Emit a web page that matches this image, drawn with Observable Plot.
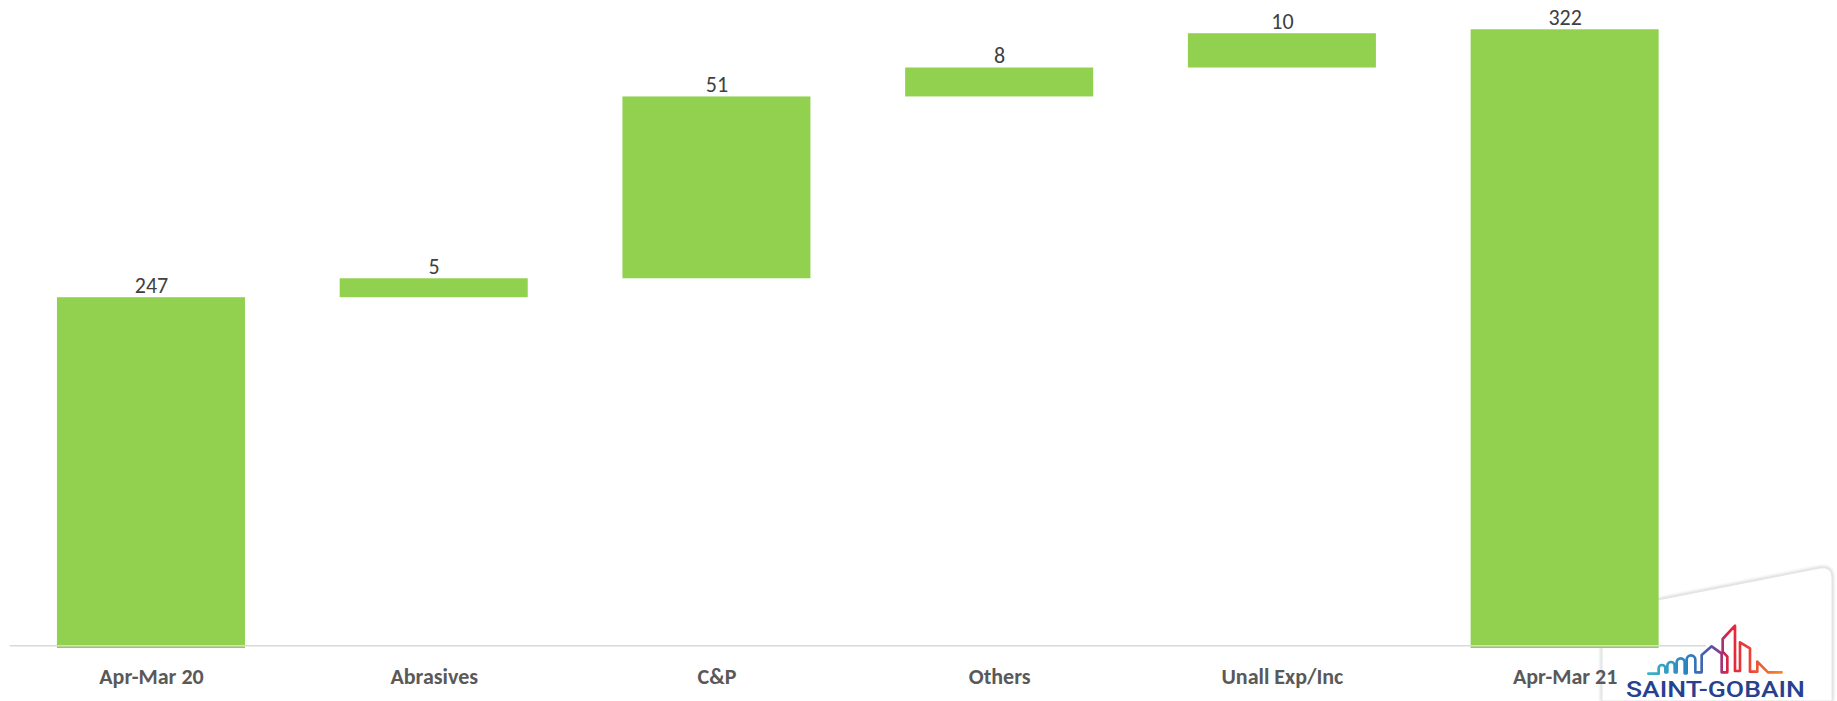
<!DOCTYPE html>
<html>
<head>
<meta charset="utf-8">
<script src="https://cdn.jsdelivr.net/npm/d3@7"></script>
<script src="https://cdn.jsdelivr.net/npm/@observablehq/plot@0.6"></script>
<style>
  html, body { margin: 0; padding: 0; background: #ffffff; }
  #wrap { position: relative; width: 1837px; height: 701px; overflow: hidden; }
  #panel, #logo { position: absolute; left: 0; top: 0; }
  #chart { position: absolute; left: 0; top: 0; }
  #panel { z-index: 0; }
  #chart { z-index: 1; }
  #logo { z-index: 2; pointer-events: none; }
</style>
</head>
<body>
<div id="wrap">
  <svg id="panel" width="1837" height="701">
    <defs>
      <filter id="sh" x="-10%" y="-10%" width="120%" height="120%">
        <feGaussianBlur stdDeviation="1.5"/>
      </filter>
    </defs>
    <path d="M1602,701 V611 L1820,568 Q1832,566 1832,578 V701" fill="none" stroke="#d6d6d6" stroke-width="3" filter="url(#sh)"/>
    <path d="M1602,701 V611 L1820,568 Q1832,566 1832,578 V701 Z" fill="#ffffff" stroke="#e4e4e4" stroke-width="1"/>
  </svg>
  <div id="chart"></div>
  <svg id="logo" width="1837" height="701">
    <defs>
      <linearGradient id="sky" gradientUnits="userSpaceOnUse" x1="25" y1="0" x2="425" y2="0">
        <stop offset="0" stop-color="#3cb6c6"/>
        <stop offset="0.3" stop-color="#2a80c0"/>
        <stop offset="0.45" stop-color="#4a5aa8"/>
        <stop offset="0.53" stop-color="#8b3a8c"/>
        <stop offset="0.6" stop-color="#e2203c"/>
        <stop offset="0.75" stop-color="#ec3f38"/>
        <stop offset="1" stop-color="#f2892c"/>
      </linearGradient>
    </defs>
    <g transform="translate(1640,615) scale(0.3333)">
      <path d="M25,176 H56 V160 A10,10 0 0 1 76,160 V172 H82 V152 A11,11 0 0 1 104,152 V172 H110 V142 A12,12 0 0 1 134,142 V175 H140 V134 A13,13 0 0 1 166,134 V172 H185 V120 L215,94 L245,116 V172 H262 V125 L248,110 V72 L285,32 V168 H300 V82 L330,100 V170 H352 V140 L372,160 L384,172 H425"
        fill="none" stroke="url(#sky)" stroke-width="8" stroke-linejoin="round" stroke-linecap="round"/>
    </g>
    <text x="1626" y="697" font-family="Roboto, 'Noto Sans', sans-serif" font-weight="500" font-size="22" fill="#27418f" textLength="179" lengthAdjust="spacingAndGlyphs">SAINT-GOBAIN</text>
  </svg>
</div>
<script>
// ---- data ----
const categories = ["Apr-Mar 20", "Abrasives", "C&P", "Others", "Unall Exp/Inc", "Apr-Mar 21"];
const values = [247.4, 5.3, 50.9, 8.1, 9.6, 322.4];
const kinds = ["total", "delta", "delta", "delta", "delta", "total"];
const axisMin = 149.2;   // y-axis does not start at zero
const axisLineAt = 150;

// build waterfall rows
let running = 0;
const rows = categories.map((cat, i) => {
  let start, end;
  if (kinds[i] === "total") {
    start = axisMin;
    end = values[i];
    running = values[i];
  } else {
    start = running;
    end = running + values[i];
    running = end;
  }
  return { cat, value: values[i], start, end };
});

const fmt = d3.format(".0f");
const font = "Carlito, Calibri, Lato, 'Open Sans', sans-serif";

const chart = Plot.plot({
  width: 1837,
  height: 701,
  marginTop: 0,
  marginBottom: 53,
  marginLeft: 9.6,
  marginRight: 131,
  style: { background: "transparent", fontFamily: font },
  x: { domain: categories, paddingInner: 0.335, paddingOuter: 0.1675, round: false },
  y: { domain: [axisMin, 330.6], axis: null },
  marks: [
    Plot.barY(rows, { x: "cat", y1: "start", y2: "end", fill: "#92D050" }),
    Plot.ruleY([axisLineAt], { stroke: "#d9d9d9", strokeWidth: 1.5 }),
    Plot.text(rows, {
      x: "cat", y: "end", text: d => fmt(d.value),
      dy: -5, lineAnchor: "bottom", fontSize: 22, fill: "#404040"
    }),
    Plot.axisX({
      tickSize: 0, tickPadding: 20, fontSize: 22, fontWeight: "bold",
      fill: "#595959", label: null
    })
  ]
});
document.getElementById("chart").appendChild(chart);
</script>
</body>
</html>
